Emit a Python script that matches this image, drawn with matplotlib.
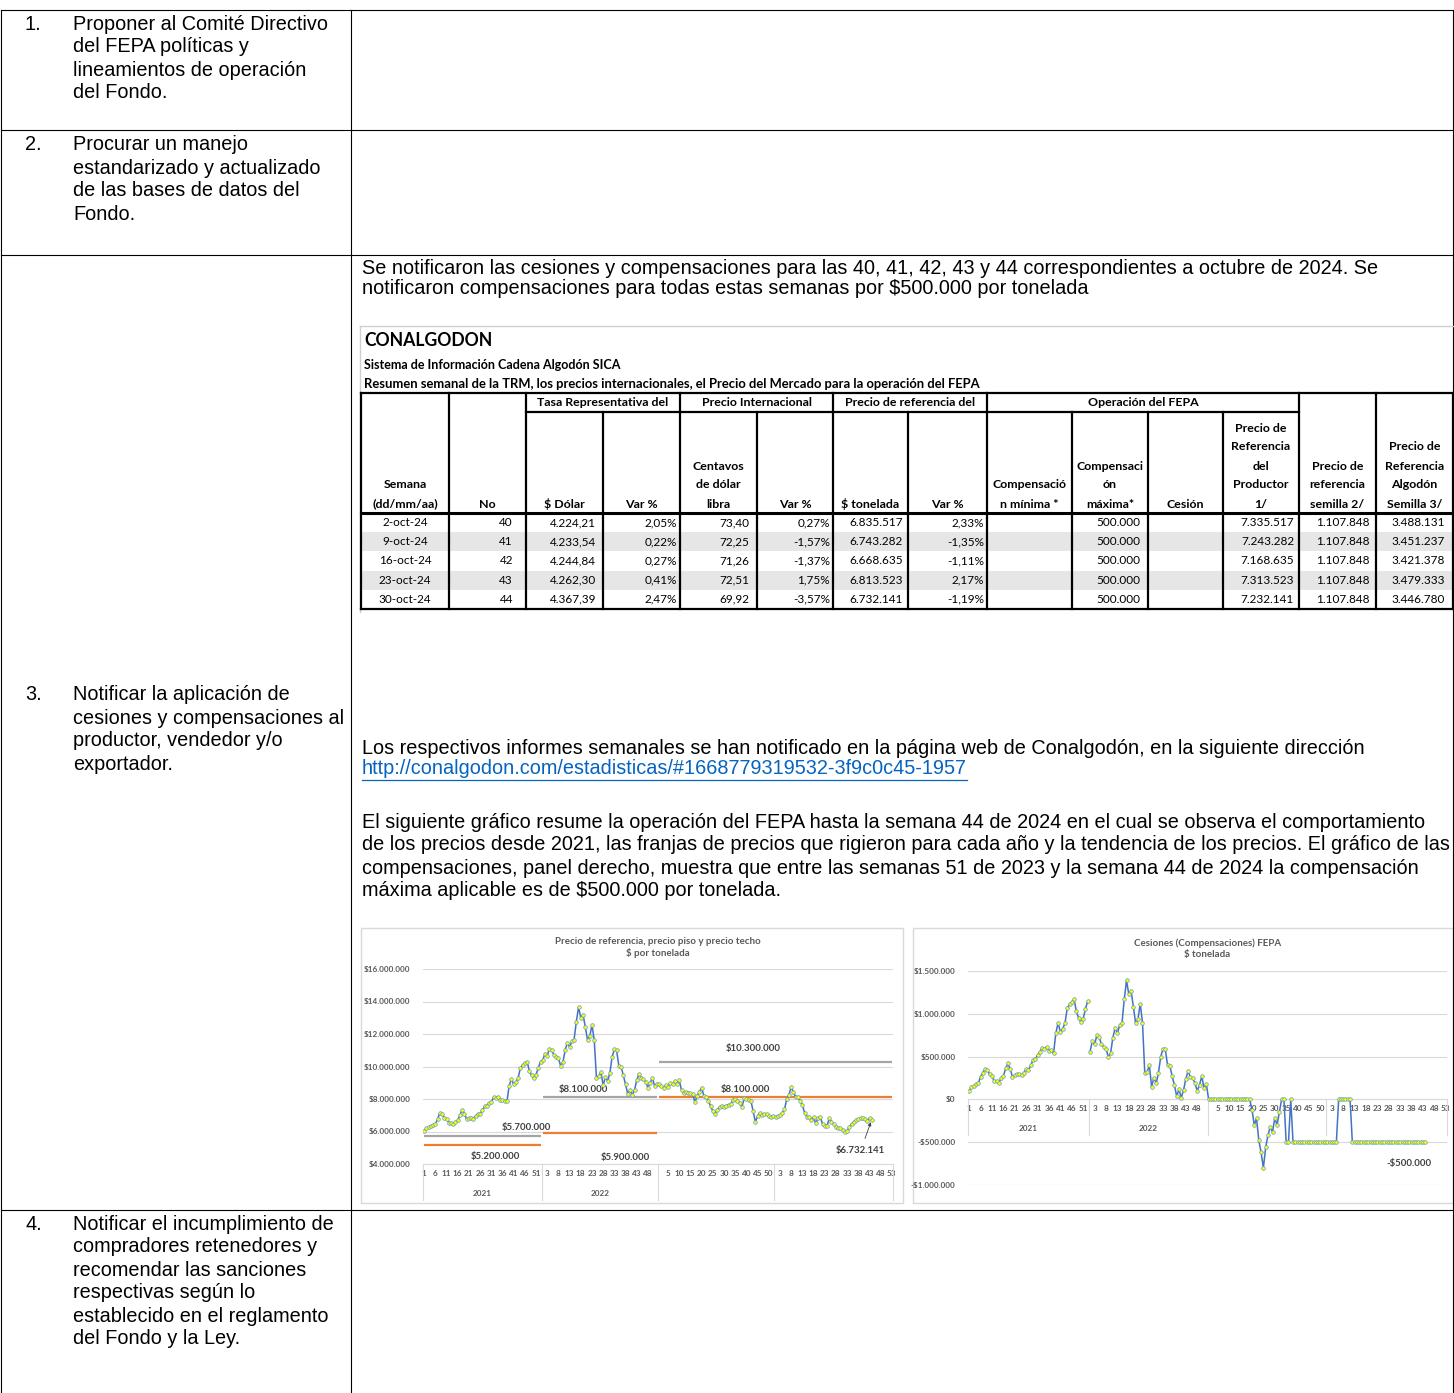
import matplotlib
matplotlib.use("Agg")
import matplotlib.pyplot as plt
import matplotlib.transforms as mtransforms
from matplotlib.patches import Rectangle
import numpy as np

DOC = ["Liberation Sans", "DejaVu Sans"]
XL = ["Lato", "DejaVu Sans"]
W, H = 1454, 1393

# ---------------- datos ----------------
# tabla semanal (octubre 2024)
semana = ["2-oct-24", "9-oct-24", "16-oct-24", "23-oct-24", "30-oct-24"]
numero = ["40", "41", "42", "43", "44"]
trm = ["4.224,21", "4.233,54", "4.244,84", "4.262,30", "4.367,39"]
trm_var = ["2,05%", "0,22%", "0,27%", "0,41%", "2,47%"]
centavos = ["73,40", "72,25", "71,26", "72,51", "69,92"]
centavos_var = ["0,27%", "-1,57%", "-1,37%", "1,75%", "-3,57%"]
tonelada = ["6.835.517", "6.743.282", "6.668.635", "6.813.523", "6.732.141"]
tonelada_var = ["2,33%", "-1,35%", "-1,11%", "2,17%", "-1,19%"]
comp_min = ["", "", "", "", ""]
comp_max = ["500.000", "500.000", "500.000", "500.000", "500.000"]
cesion = ["", "", "", "", ""]
ref_productor = ["7.335.517", "7.243.282", "7.168.635", "7.313.523", "7.232.141"]
ref_semilla = ["1.107.848", "1.107.848", "1.107.848", "1.107.848", "1.107.848"]
ref_algodon = ["3.488.131", "3.451.237", "3.421.378", "3.479.333", "3.446.780"]

# precio de referencia semanal, millones de $ por tonelada
precio_2021 = [6.05, 6.2, 6.25, 6.35, 6.4, 6.45, 6.75, 7.15, 7.05, 6.85,
               6.8, 6.55, 6.5, 6.45, 6.6, 6.7, 7.0, 7.35, 7.1, 6.75,
               6.85, 6.85, 6.8, 6.95, 7.1, 7.1, 7.3, 7.55, 7.6, 7.75,
               7.8, 8.1, 8.05, 8.15, 7.95, 7.95, 7.9, 7.85, 8.8, 9.25,
               8.9, 9.05, 9.3, 9.9, 10.1, 10.2, 10.3, 9.75, 9.45, 9.3,
               9.5, 9.9, 10.3]
precio_2022 = [10.4, 10.8, 10.65, 11.1, 11.0, 10.7, 10.6, 10.5, 10.05, 10.25,
               11.0, 11.45, 11.2, 11.55, 11.65, 12.75, 13.65, 13.0, 13.2, 12.45,
               11.65, 11.85, 12.55, 11.65, 9.3, 9.4, 9.65, 8.85, 9.35, 9.1,
               9.6, 10.6, 11.05, 11.0, 10.05, 10.0, 9.45, 8.9, 8.3, 8.55,
               8.25, 8.55, 9.15, 9.55, 9.3, 9.25, 9.05, 8.7, 9.0, 9.3,
               8.8, 8.95]
precio_2023 = [8.95, 8.8, 8.7, 8.85, 8.75, 9.0, 8.9, 9.1, 8.95, 9.15,
               8.55, 8.35, 8.45, 8.4, 8.35, 8.3, 7.8, 8.2, 8.45, 8.7,
               8.2, 8.1, 7.9, 7.55, 7.25, 7.1, 7.35, 7.5, 7.6, 7.5,
               7.6, 7.65, 7.7, 7.95, 8.0, 7.9, 7.75, 7.5, 8.05, 8.0,
               7.95, 7.9, 7.25, 6.6, 6.95, 7.15, 7.0, 7.1, 7.05, 6.95,
               6.9, 6.95]
precio_2024 = [6.91, 6.95, 7.02, 7.12, 7.36, 7.98, 8.25, 8.76, 8.41, 8.14,
               8.1, 7.9, 7.63, 7.16, 6.91, 6.87, 6.71, 6.87, 6.5, 6.81,
               6.91, 6.46, 6.34, 6.34, 6.81, 6.61, 6.46, 6.3, 6.24, 6.19,
               6.09, 5.99, 6.05, 6.3, 6.46, 6.61, 6.71, 6.75, 6.81, 6.836,
               6.743, 6.669, 6.814, 6.732]

# cesiones (+) y compensaciones (-), miles de $ por tonelada
comp_2021 = [97, 144, 156, 183, 187, 265, 311, 358, 343, 292,
             273, 214, 210, 187, 253, 273, 362, 420, 358, 261,
             280, 292, 292, 280, 311, 358, 343, 397, 459, 475,
             514, 553, 604, 592, 615, 565, 576, 537, 771, 896,
             787, 826, 888, 1063, 1110, 1137, 1168, 1032, 950, 903,
             942, 1059, 1149]
comp_2022 = [557, 681, 643, 748, 728, 643, 615, 592, 498, 537,
             720, 837, 771, 868, 888, 1168, 1390, 1227, 1266, 1083,
             888, 935, 1118, 896, 311, 319, 401, 148, 253, 187,
             311, 498, 592, 584, 397, 389, 273, 164, 39, 117,
             20, 110, 240, 330, 260, 250, 190, 100, 170, 270,
             130, 180]
comp_2023 = [0, 0, 0, 0, 0, 0, 0, 0, 0, 0,
             0, 0, 0, 0, 0, 0, 0, 0, 0, -120,
             -300, -220, -480, -620, -800, -560, -420, -320, -380, -220,
             -300, -150, 0, 0, -500, -500, 0, -500, -500, -500,
             -500, -500, -500, -500, -500, -500, -500, -500, -500, -500,
             -500, -500]
comp_2024 = [-500, -500, -500, -500, -500, 0, 0, 0, 0, 0,
             0, -500, -500, -500, -500, -500, -500, -500, -500, -500,
             -500, -500, -500, -500, -500, -500, -500, -500, -500, -500,
             -500, -500, -500, -500, -500, -500, -500, -500, -500, -500,
             -500, -500, -500, -500]

anios = ["2021", "2022", "2023", "2024"]
semanas_anio = [53, 52, 52, 53]
etiquetas_semana = [[1, 6, 11, 16, 21, 26, 31, 36, 41, 46, 51],
                    [3, 8, 13, 18, 23, 28, 33, 38, 43, 48],
                    [5, 10, 15, 20, 25, 30, 35, 40, 45, 50],
                    [3, 8, 13, 18, 23, 28, 33, 38, 43, 48, 53]]
anios_rotulados = ["2021", "2022", "", ""]

# franjas de precio (piso / techo), millones $
franja_piso = [5.2, 5.9, 8.1]
franja_techo = [5.7, 8.1, 10.3]
franja_anios = [[0], [1], [2, 3]]

# ---------------- figura ----------------
fig = plt.figure(figsize=(W / 100, H / 100), dpi=100)
fig.patch.set_facecolor("white")
bg = fig.add_axes([0, 0, 1, 1])
bg.set_xlim(0, W)
bg.set_ylim(H, 0)
bg.axis("off")

# marco del documento
lc = "#000000"
for y in [10, 130, 255, 1210]:
    bg.plot([1, W - 1], [y, y], color=lc, lw=0.8)
for x in [1, 351, W - 1.5]:
    bg.plot([x, x], [10, H], color=lc, lw=0.8)

left_items = [
    ("1.", ["Proponer al Comité Directivo", "del FEPA políticas y",
            "lineamientos de operación", "del Fondo."], 24),
    ("2.", ["Procurar un manejo", "estandarizado y actualizado",
            "de las bases de datos del", "Fondo."], 145),
    ("3.", ["Notificar la aplicación de", "cesiones y compensaciones al",
            "productor, vendedor y/o", "exportador."], 695),
    ("4.", ["Notificar el incumplimiento de", "compradores retenedores y",
            "recomendar las sanciones", "respectivas según lo",
            "establecido en el reglamento", "del Fondo y la Ley."], 1224),
]
fs_doc = 14.35
for num, lines, y0 in left_items:
    bg.text(25, y0, num, fontsize=fs_doc, family=DOC, va="center")
    for i, t in enumerate(lines):
        bg.text(73, y0 + 23 * i, t, fontsize=fs_doc, family=DOC, va="center")

bg.text(362, 268, "Se notificaron las cesiones y compensaciones para las 40, 41, 42, 43 y 44 "
        "correspondientes a octubre de 2024. Se", fontsize=fs_doc, family=DOC, va="center")
bg.text(362, 289, "notificaron compensaciones para todas estas semanas por $500.000 por tonelada",
        fontsize=fs_doc, family=DOC, va="center")
bg.text(362, 748, "Los respectivos informes semanales se han notificado en la página web de "
        "Conalgodón, en la siguiente dirección", fontsize=fs_doc, family=DOC, va="center")
link = bg.text(362, 769, "http://conalgodon.com/estadisticas/#1668779319532-3f9c0c45-1957",
               fontsize=fs_doc, family=DOC, va="center", color="#0563C1")
fig.canvas.draw()
bb = link.get_window_extent().transformed(bg.transData.inverted())
bg.plot([bb.x0, bb.x1], [780, 780], color="#0563C1", lw=0.9)

parrafo = [
    "El siguiente gráfico resume la operación del FEPA hasta la semana 44 de 2024 en el cual se observa el comportamiento",
    "de los precios desde 2021, las franjas de precios que rigieron para cada año y la tendencia de los precios. El gráfico de las",
    "compensaciones, panel derecho, muestra que entre las semanas 51 de 2023 y la semana 44 de 2024 la compensación",
    "máxima aplicable es de $500.000 por tonelada.",
]
for i, t in enumerate(parrafo):
    bg.text(362, 822 + 23 * i, t, fontsize=fs_doc, family=DOC, va="center")

# ---------------- tabla CONALGODON ----------------
bg.plot([360, W], [326, 326], color="#D0D0D0", lw=1)
bg.plot([360, 360], [326, 612], color="#D0D0D0", lw=1)
bg.text(364, 340, "CONALGODON", fontsize=12.7, family=XL, weight="bold", va="center")
bg.text(364, 365, "Sistema de Información Cadena Algodón SICA", fontsize=9.0, family=XL,
        weight="bold", va="center")
bg.text(364, 384, "Resumen semanal de la TRM, los precios internacionales, el Precio del "
        "Mercado para la operación del FEPA", fontsize=9.4, family=XL, weight="bold", va="center")

col_x = [361, 449, 526, 603, 680, 757, 833, 908, 987, 1072, 1148, 1223, 1299, 1376, 1453]
columnas = [semana, numero, trm, trm_var, centavos, centavos_var, tonelada, tonelada_var,
            comp_min, comp_max, cesion, ref_productor, ref_semilla, ref_algodon]
encabezados = [["Semana", "(dd/mm/aa)"], ["No"], ["$ Dólar"], ["Var %"],
               ["Centavos", "de dólar", "libra"], ["Var %"], ["$ tonelada"], ["Var %"],
               ["Compensació", "n mínima *"], ["Compensaci", "ón", "máxima*"], ["Cesión"],
               ["Precio de", "Referencia", "del", "Productor", "1/"],
               ["Precio de", "referencia", "semilla 2/"],
               ["Precio de", "Referencia", "Algodón", "Semilla 3/"]]
grupos = [("Tasa Representativa del", 2, 4), ("Precio Internacional", 4, 6),
          ("Precio de referencia del", 6, 8), ("Operación del FEPA", 8, 12)]
pads = [None, 13, 7, 3, 8, 3, 5, 3, 3, 8, 3, 5, 6, 8]

y_top, y_grp, y_hdr, y_bot = 393, 412, 513, 609
row_h = (y_bot - y_hdr) / 5
fs_dat = 8.5
fs_hdr = 8.9
for r in range(5):
    yc = y_hdr + row_h * (r + 0.5)
    if r % 2 == 1:
        bg.add_patch(Rectangle((col_x[0], y_hdr + row_h * r), col_x[-1] - col_x[0], row_h,
                               facecolor="#E7E6E6", edgecolor="none", zorder=0))
    for c, vals in enumerate(columnas):
        if pads[c] is None:
            bg.text((col_x[c] + col_x[c + 1]) / 2, yc, vals[r], fontsize=fs_dat, family=XL,
                    ha="center", va="center")
        else:
            bg.text(col_x[c + 1] - pads[c], yc, vals[r], fontsize=fs_dat, family=XL,
                    ha="right", va="center")

for c, lines in enumerate(encabezados):
    xc = (col_x[c] + col_x[c + 1]) / 2
    for i, t in enumerate(reversed(lines)):
        bg.text(xc, 504 - 19 * i, t, fontsize=fs_hdr, family=XL, weight="bold",
                ha="center", va="center")
for t, a, b in grupos:
    bg.text((col_x[a] + col_x[b]) / 2, 403, t, fontsize=fs_hdr, family=XL, weight="bold",
            ha="center", va="center")

tlw = 1.6
bg.plot([col_x[0], col_x[-1]], [y_top, y_top], color=lc, lw=tlw)
bg.plot([col_x[2], col_x[12]], [y_grp, y_grp], color=lc, lw=tlw)
bg.plot([col_x[0], col_x[-1]], [y_hdr, y_hdr], color=lc, lw=2.2)
bg.plot([col_x[0], col_x[-1]], [y_bot, y_bot], color=lc, lw=tlw)
inner = {3, 5, 7, 9, 10, 11}
for i, x in enumerate(col_x):
    bg.plot([x, x], [y_grp if i in inner else y_top, y_bot], color=lc, lw=tlw)

# ---------------- graficos ----------------
def frac(x0, y0, x1, y1):
    return [x0 / W, 1 - y1 / H, (x1 - x0) / W, (y1 - y0) / H]

bg.add_patch(Rectangle((361, 928), 542, 275, fill=False, ec="#D9D9D9", lw=1))
bg.add_patch(Rectangle((913, 928), 540, 275, fill=False, ec="#D9D9D9", lw=1))

gris = "#595959"
blue = "#4472C4"
fs_tick = 5.9
offsets = np.concatenate([[0], np.cumsum(semanas_anio)])


def eje_categorias(ax, y_lab, y_sep0, y_sep1, pad):
    pos, labs = [], []
    for k, semanas in enumerate(etiquetas_semana):
        for s in semanas:
            pos.append(offsets[k] + s - 1)
            labs.append(str(s))
    ax.set_xticks(pos, labs, fontsize=fs_tick, fontweight="bold", family=XL, color=gris)
    ax.tick_params(axis="x", length=0, pad=pad)
    tr = mtransforms.blended_transform_factory(ax.transData, ax.transAxes)
    for k, anio in enumerate(anios_rotulados):
        ax.text((offsets[k] + offsets[k + 1] - 1) / 2, y_lab, anio, transform=tr,
                fontsize=fs_tick, fontweight="bold", family=XL, color=gris,
                ha="center", va="center")
    for b in offsets:
        ax.plot([b - 0.5, b - 0.5], [y_sep0, y_sep1], transform=tr, clip_on=False,
                color="#D9D9D9", lw=0.8)


def estilo(ax, fmt):
    for s in ax.spines.values():
        s.set_visible(False)
    ax.set_facecolor("none")
    ax.grid(axis="y", color="#D9D9D9", lw=0.8)
    ax.set_axisbelow(True)
    ax.tick_params(axis="y", length=0, pad=9, labelsize=fs_tick, labelcolor=gris)
    ax.yaxis.set_major_formatter(plt.FuncFormatter(fmt))


def negrita_y(ax):
    for t in ax.get_yticklabels():
        t.set_fontweight("bold")
        t.set_family(XL)


def fmt_mill(v, _):
    return "$" + f"{v * 1e6:,.0f}".replace(",", ".")


def fmt_miles(v, _):
    s = f"{abs(v) * 1000:,.0f}".replace(",", ".")
    return ("-$" if v < 0 else "$") + s


lab_kw = dict(fontsize=6.9, fontweight="bold", family=XL, color="#404040",
              ha="center", va="center")
tit_kw = dict(fontsize=7.0, fontweight="bold", family=XL, color=gris, linespacing=1.35)

# --- panel izquierdo ---
ax1 = fig.add_axes(frac(423, 969, 893, 1164))
precio = np.concatenate([precio_2021, precio_2022, precio_2023, precio_2024])
xp = np.arange(len(precio))
ax1.set_xlim(-0.5, offsets[-1] - 0.5)
ax1.set_ylim(4, 16)
ax1.set_yticks(np.arange(4, 17, 2))
estilo(ax1, fmt_mill)
negrita_y(ax1)
ax1.spines["bottom"].set_visible(True)
ax1.spines["bottom"].set_color("#D9D9D9")
eje_categorias(ax1, -0.149, 0, -0.185, 4)

for piso, techo, yrs in zip(franja_piso, franja_techo, franja_anios):
    a = offsets[yrs[0]]
    b = offsets[yrs[-1] + 1] - 1
    ax1.plot([a, b], [techo, techo], color="#A5A5A5", lw=1.6, solid_capstyle="butt")
    ax1.plot([a, b], [piso, piso], color="#ED7D31", lw=1.6, solid_capstyle="butt")

ax1.plot(xp, precio, color=blue, lw=1.1, marker="o", ms=2.6, mfc="#FFFF00",
         mec="#5B9BD5", mew=0.5, zorder=5)

ax1.text(45.5, 6.22, "$5.700.000", **lab_kw)
ax1.text(32, 4.49, "$5.200.000", **lab_kw)
ax1.text(71, 8.6, "$8.100.000", **lab_kw)
ax1.text(90, 4.37, "$5.900.000", **lab_kw)
ax1.text(147, 11.08, "$10.300.000", **lab_kw)
ax1.text(143.5, 8.6, "$8.100.000", **lab_kw)
ax1.annotate("$6.732.141", xy=(xp[-1], precio[-1]), xytext=(195, 4.8),
             arrowprops=dict(arrowstyle="-|>", color="#404040", lw=0.6,
                             mutation_scale=5, shrinkA=4, shrinkB=2), **lab_kw)
ax1.set_title("Precio de referencia, precio piso y precio techo\n$ por tonelada", pad=9, **tit_kw)

# --- panel derecho ---
ax2 = fig.add_axes(frac(968, 971, 1447, 1185))
ax2.set_xlim(-0.5, offsets[-1] - 0.5)
ax2.set_ylim(-1000, 1500)
ax2.set_yticks(np.arange(-1000, 1501, 500))
estilo(ax2, fmt_miles)
negrita_y(ax2)
ax2.spines["bottom"].set_visible(True)
ax2.spines["bottom"].set_position(("data", 0))
ax2.spines["bottom"].set_color("#D9D9D9")
eje_categorias(ax2, 0.266, 0.397, 0.234, 4)

serie_a = np.array(comp_2021, dtype=float)
serie_b = np.concatenate([comp_2022, comp_2023, comp_2024]).astype(float)
for xs, ys in [(np.arange(len(serie_a)), serie_a),
               (offsets[1] + np.arange(len(serie_b)), serie_b)]:
    ax2.plot(xs, ys, color=blue, lw=1.1, marker="o", ms=2.6, mfc="#FFFF00",
             mec="#5B9BD5", mew=0.5, zorder=5)
ax2.text(193, -747, "-$500.000", **lab_kw)
ax2.set_title("Cesiones (Compensaciones) FEPA\n$ tonelada", pad=10, **tit_kw)

fig.savefig("out.png", dpi=100)
